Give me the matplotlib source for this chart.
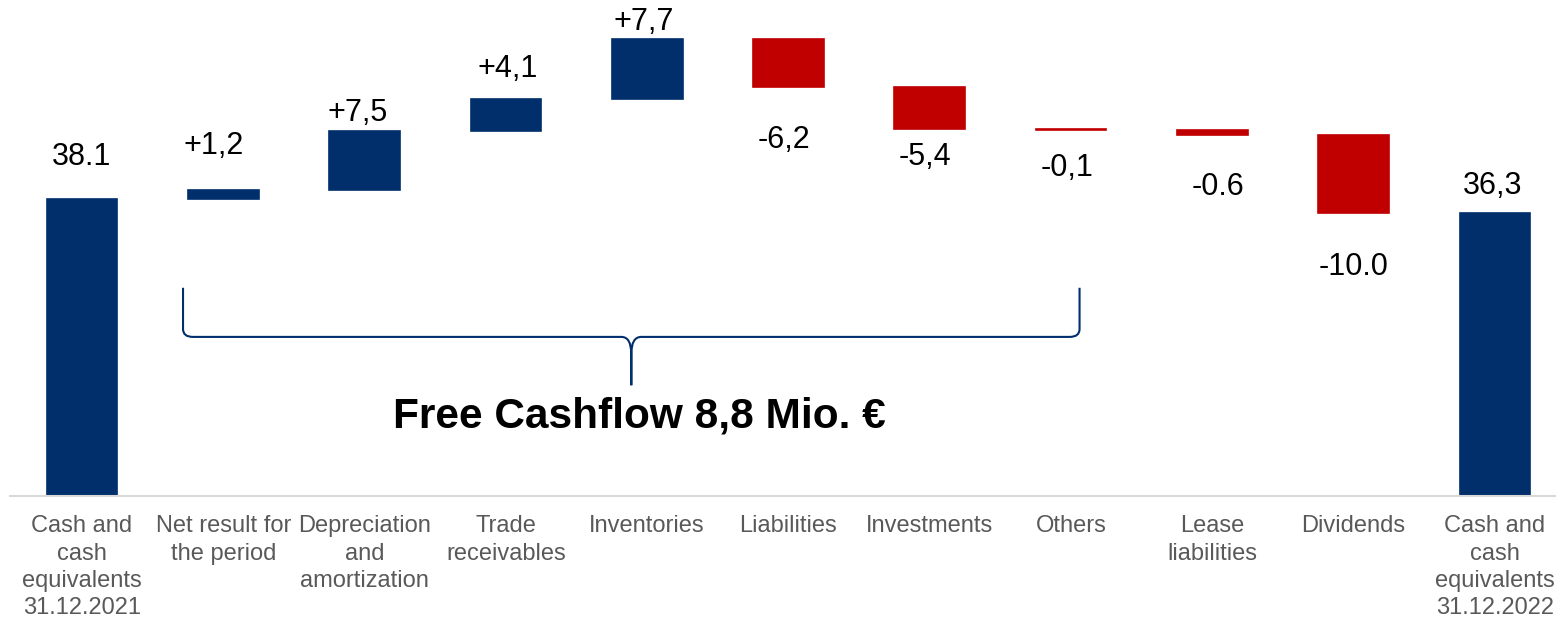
import numpy as np
import matplotlib.pyplot as plt
from matplotlib.path import Path
from matplotlib.patches import PathPatch

plt.rcParams['font.family'] = ['Liberation Sans', 'DejaVu Sans']

# Data (Mio. EUR)
categories = ['Cash and\ncash\nequivalents\n31.12.2021', 'Net result for\nthe period',
              'Depreciation\nand\namortization', 'Trade\nreceivables', 'Inventories',
              'Liabilities', 'Investments', 'Others', 'Lease\nliabilities', 'Dividends',
              'Cash and\ncash\nequivalents\n31.12.2022']
start_value = 38.1
changes = [1.2, 7.5, 4.1, 7.7, -6.2, -5.4, -0.1, -0.6, -10.0]
end_value = 36.3
value_labels = ['38.1', '+1,2', '+7,5', '+4,1', '+7,7', '-6,2', '-5,4', '-0,1', '-0.6', '-10.0', '36,3']
fcf_text = 'Free Cashflow 8,8 Mio. €'

# label offsets from bar edge (pixels), picked by eye
label_dy = [42, 44, 18, 30, 17, 53, 28, 38, 52, 54, 27]
label_dx = [0, -10, -7, 2, -3, -5, -5, -4, 6, 0, -2]

navy = '#002F6C'
red = '#C00000'

fig = plt.figure(figsize=(15.56, 6.2), dpi=100)
ax = fig.add_axes([10 / 1556, 0.2, 1546 / 1556, 0.8])

x = np.arange(len(categories))
w = 0.5

# waterfall bottoms / heights
cum = start_value + np.cumsum([0] + changes[:-1])
bottoms = [0] + [c if d >= 0 else c + d for c, d in zip(cum, changes)] + [0]
heights = [start_value] + [abs(d) for d in changes] + [end_value]
colors = [navy] + [navy if d >= 0 else red for d in changes] + [navy]
is_neg = [False] + [d < 0 for d in changes] + [False]

ax.bar(x, heights, bottom=bottoms, width=w, color=colors, edgecolor=colors, linewidth=1.2)

for i in range(len(x)):
    if is_neg[i]:
        ax.annotate(value_labels[i], (x[i], bottoms[i]), xytext=(label_dx[i], -label_dy[i]),
                    textcoords='offset pixels', ha='center', va='center', fontsize=22)
    else:
        ax.annotate(value_labels[i], (x[i], bottoms[i] + heights[i]), xytext=(label_dx[i], label_dy[i]),
                    textcoords='offset pixels', ha='center', va='center', fontsize=22)

# curly brace over the free cashflow items
x0, x1 = 0.715, 7.06
ytop, yh, ytip = 26.7, 20.4, 14.2
xm = (x0 + x1) / 2
dx, dy = 0.07, 1.0
cx, cy = 0.07, 2.2
verts = [(x0, ytop), (x0, yh + dy), (x0, yh), (x0 + dx, yh),
         (xm - cx, yh), (xm, yh), (xm, yh - cy), (xm, ytip),
         (xm, yh - cy), (xm, yh), (xm + cx, yh),
         (x1 - dx, yh), (x1, yh), (x1, yh + dy), (x1, ytop)]
codes = [Path.MOVETO, Path.LINETO, Path.CURVE3, Path.CURVE3,
         Path.LINETO, Path.CURVE3, Path.CURVE3, Path.LINETO,
         Path.LINETO, Path.CURVE3, Path.CURVE3,
         Path.LINETO, Path.CURVE3, Path.CURVE3, Path.LINETO]
ax.add_patch(PathPatch(Path(verts, codes), fill=False, edgecolor=navy, lw=1.5))
ax.text(xm + 0.06, 10.2, fcf_text, ha='center', va='center', fontsize=30.5, fontweight='bold')

ax.set_xlim(-0.5096, 10.432)
ax.set_ylim(0, 63.6)
ax.set_xticks(x)
ax.set_xticklabels(categories, fontsize=17, color='#595959', linespacing=1.3)
ax.tick_params(axis='x', length=0, pad=14)
ax.set_yticks([])
for s in ['top', 'left', 'right']:
    ax.spines[s].set_visible(False)
ax.spines['bottom'].set_color('#D9D9D9')
ax.spines['bottom'].set_linewidth(1.5)

fig.savefig('out.png', dpi=100)
